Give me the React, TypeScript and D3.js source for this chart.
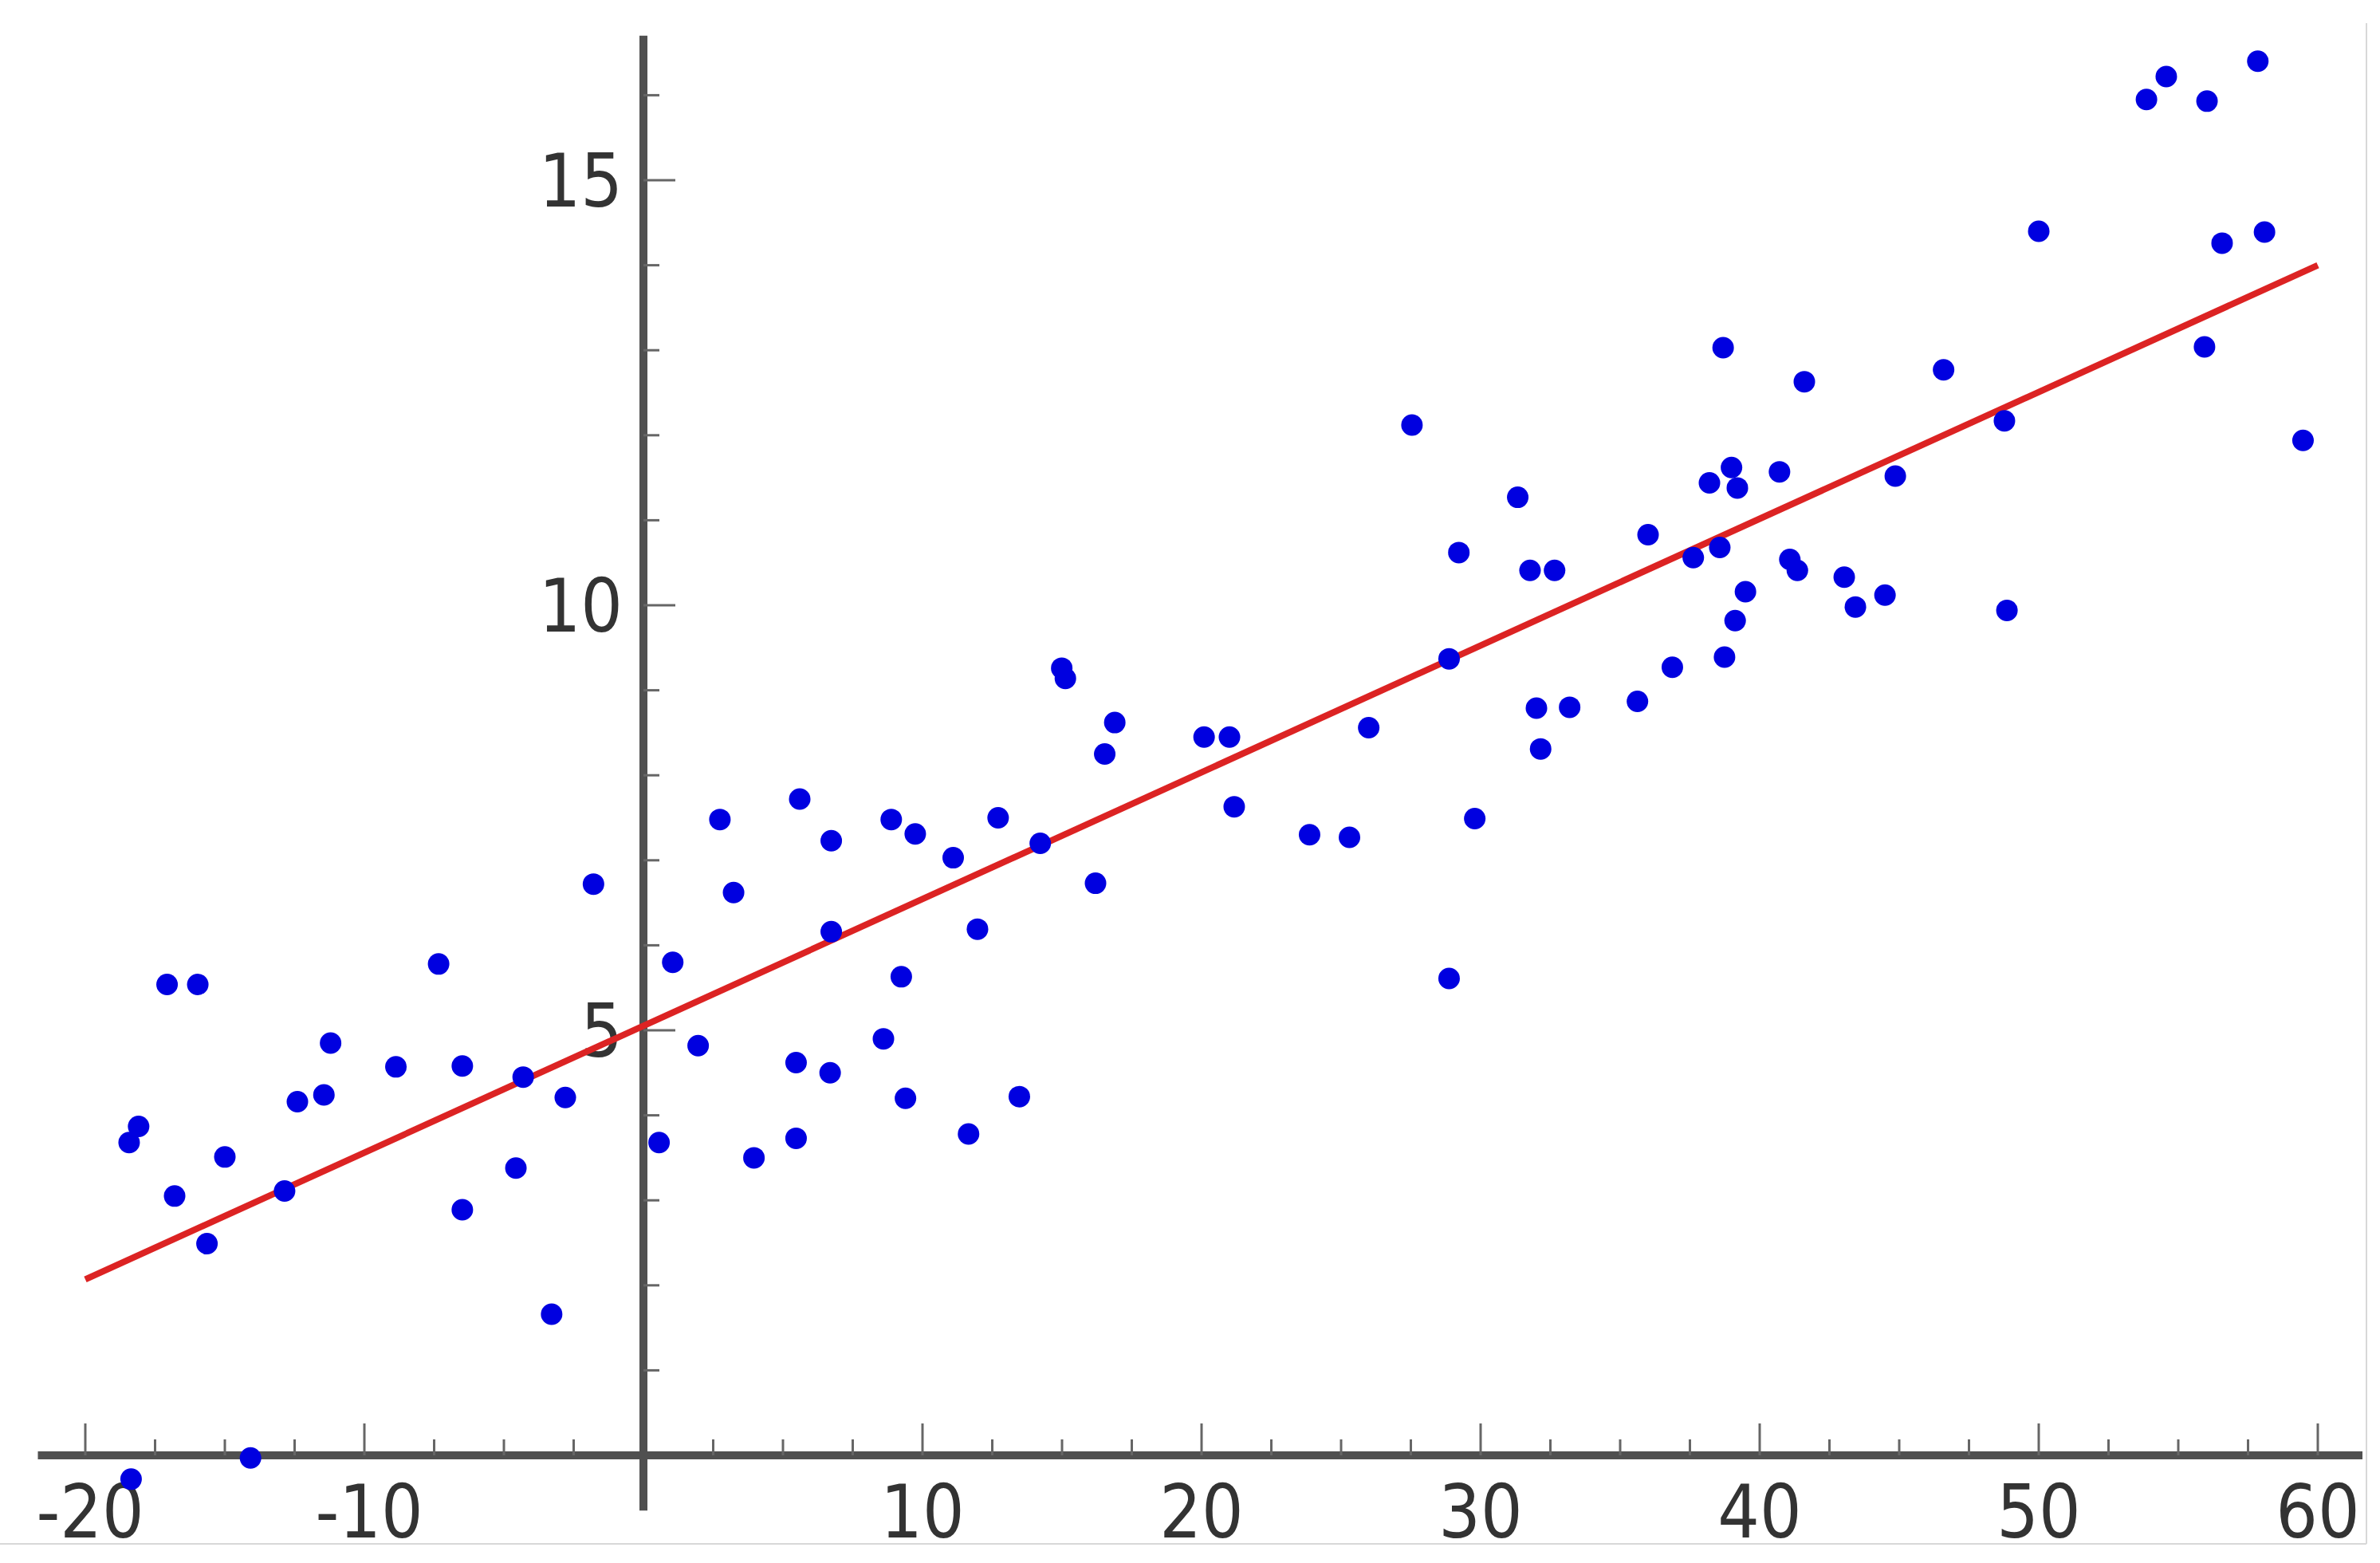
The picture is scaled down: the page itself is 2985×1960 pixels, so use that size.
import React from "react";
import * as d3 from "d3";

// scatter points
const xValues = [
  -18.43, -18.09, -17.07, -15.97, -11.21, -8.87, -6.49, -7.34, -12.4, -11.45, -4.31, -2.8,
  -15.0, -16.8, -12.86, -15.64, -4.57, -6.49, -3.29, -1.79, -14.08, -18.36,
  1.05, 1.96, 0.56, 14.99, 15.12, 16.89, 16.53, 20.09, 21.0, 21.17, 23.87, 25.3, 5.6, 2.74,
  8.88, 9.74, 6.73, 12.71, 11.1, 14.22, 16.2, 3.23, 11.97, 6.73, 9.24, 8.6, 5.47, 6.69,
  9.39, 13.47, 3.96, 5.47, 11.65, 25.99, 27.54, 28.87, 29.22, 29.79, 28.87,
  31.33, 31.77, 32.65, 32.0, 33.19, 32.15, 35.62, 36.0, 36.87, 37.62, 38.57, 38.2, 38.99,
  39.2, 38.69, 38.74, 39.12, 39.49, 40.71, 41.08, 41.35, 41.6, 43.03, 43.43, 44.49, 44.86,
  46.59, 48.77, 48.86, 50.0, 53.86, 54.57, 56.03, 57.85, 56.57, 58.09, 55.94, 59.47,
];
const yValues = [
  3.68, 3.87, 5.54, 5.54, 4.85, 4.57, 4.58, 5.78, 4.16, 4.24, 4.45, 4.21,
  3.51, 3.05, 3.11, 2.49, 3.38, 2.89, 1.66, 6.72, -0.03, -0.28,
  5.8, 4.82, 3.68, 9.26, 9.14, 8.62, 8.25, 8.45, 8.45, 7.63, 7.3, 7.27, 7.72, 7.48,
  7.48, 7.31, 7.23, 7.5, 7.03, 7.2, 6.73, 6.62, 6.19, 6.16, 5.63, 4.9, 4.62, 4.5,
  4.2, 4.22, 3.5, 3.73, 3.78, 8.56, 12.12, 9.37, 10.62, 7.49, 5.61,
  11.27, 10.41, 10.41, 8.79, 8.8, 8.31, 8.87, 10.83, 9.27, 10.56, 10.68, 11.44, 11.62,
  11.38, 13.03, 9.39, 9.82, 10.16, 11.57, 10.54, 10.41, 12.63, 10.33, 9.98, 10.12, 11.52,
  12.77, 12.17, 9.94, 14.4, 15.95, 16.22, 15.93, 16.4, 14.26, 14.39, 13.04, 11.94,
];

// fitted line end points
const fitX = [-20, 60];
const fitY = [2.07, 14.0];

const xTickLabels = [-20, -10, 10, 20, 30, 40, 50, 60];
const xMinorTicks = d3.range(-20, 60.01, 2.5);
const yTickLabels = [5, 10, 15];
const yMinorTicks = d3.range(1, 17, 1);

const W = 2985;
const H = 1960;

export default function App() {
  const x = d3.scaleLinear().domain([-20, 60]).range([107, 2907]);
  const y = d3.scaleLinear().domain([0, 15]).range([1825, 226]);

  const x0 = x(0);
  const y0 = y(0);
  const axisColor = "#505050";
  const font = "'DejaVu Sans Condensed', 'DejaVu Sans', sans-serif";

  const line = d3
    .line<number>()
    .x((d) => x(d))
    .y((d, i) => y(fitY[i]));

  return (
    <svg
      width={W}
      height={H}
      style={{ position: "absolute", left: 0, top: 0, background: "#fff" }}
    >
      {/* frame edges */}
      <line x1={2968} x2={2968} y1={29} y2={1936} stroke="#d8d8d8" strokeWidth={2} />
      <line x1={0} x2={2968} y1={1936} y2={1936} stroke="#d8d8d8" strokeWidth={2} />

      {/* x axis */}
      <line x1={x(-21.7)} x2={x(61.6)} y1={y0} y2={y0} stroke={axisColor} strokeWidth={10} />
      {xMinorTicks.map((t) => {
        const major = t % 10 === 0;
        return (
          <line
            key={"xt" + t}
            x1={x(t)}
            x2={x(t)}
            y1={y0}
            y2={y0 - (major ? 40 : 20)}
            stroke="#666"
            strokeWidth={3}
          />
        );
      })}
      {xTickLabels.map((t) => (
        <text
          key={"xl" + t}
          x={x(t) + (t < 0 ? 6 : 0)}
          y={1928}
          textAnchor="middle"
          fontFamily={font}
          fontSize={92}
          fill="#333"
        >
          {String(t)}
        </text>
      ))}

      {/* y axis */}
      <line x1={x0} x2={x0} y1={y(16.7)} y2={y(-0.65)} stroke={axisColor} strokeWidth={10} />
      {yMinorTicks.map((t) => {
        const major = t % 5 === 0;
        return (
          <line
            key={"yt" + t}
            x1={x0}
            x2={x0 + (major ? 40 : 20)}
            y1={y(t)}
            y2={y(t)}
            stroke="#666"
            strokeWidth={3}
          />
        );
      })}
      {yTickLabels.map((t) => (
        <text
          key={"yl" + t}
          x={x0 - 26}
          y={y(t)}
          dy="0.36em"
          textAnchor="end"
          fontFamily={font}
          fontSize={92}
          fill="#333"
        >
          {String(t)}
        </text>
      ))}

      {/* fitted line */}
      <path d={line(fitX) || ""} fill="none" stroke="#dc2323" strokeWidth={8} />

      {/* points */}
      {xValues.map((v, i) => (
        <circle key={"p" + i} cx={x(v)} cy={y(yValues[i])} r={13.5} fill="#0000e0" />
      ))}
    </svg>
  );
}
